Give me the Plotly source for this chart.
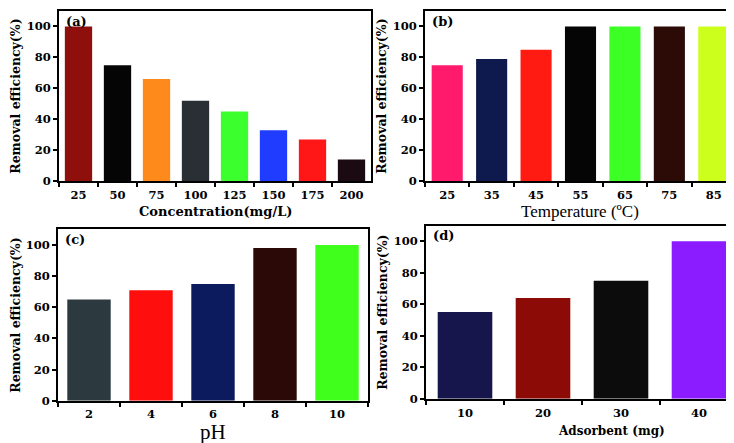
import plotly.graph_objects as go

# data
conc = ["25", "50", "75", "100", "125", "150", "175", "200"]
conc_eff = [100, 75, 66, 52, 45, 33, 27, 14]
conc_colors = ["#8e0f0c", "#050505", "#ff8a1c", "#2a2f36", "#3cff2e", "#1f3cff", "#ff1616", "#1c0a12"]

temp = ["25", "35", "45", "55", "65", "75", "85"]
temp_eff = [75, 79, 85, 100, 100, 100, 100]
temp_colors = ["#ff1a6c", "#0e1a4e", "#ff1a12", "#050505", "#3cff26", "#2c0a06", "#ccff1c"]

ph = ["2", "4", "6", "8", "10"]
ph_eff = [65, 71, 75, 98, 100]
ph_colors = ["#2c393e", "#ff0e0e", "#0b1b5e", "#2a0906", "#40ff1c"]

ads = ["10", "20", "30", "40"]
ads_eff = [55, 64, 75, 100]
ads_colors = ["#16164c", "#8c0b06", "#0c0c0c", "#8a1cff"]

W, H = 734, 443
SERIF = "Liberation Serif"
BOLD = "DejaVu Serif"   # only serif family here with a real bold face

panels = [
    # cats, values, colours, tag, x title, title font, title size, title (x, y) px, box px (l, r, t, b)
    (conc, conc_eff, conc_colors, "(a)", "<b>Concentration(mg/L)</b>", BOLD, 13, (208, 207), (51, 363, 3, 176)),
    (temp, temp_eff, temp_colors, "(b)", "Temperature (ºC)", SERIF, 17, (572, 207), (417, 728, 3, 176)),
    (ph, ph_eff, ph_colors, "(c)", "pH", SERIF, 21, (205, 431), (50, 360, 225, 399)),
    (ads, ads_eff, ads_colors, "(d)", "<b>Adsorbent (mg)</b>", BOLD, 12, (603, 430), (418, 730, 221, 397)),
]

fig = go.Figure()

for i, (cats, vals, cols, lab, xtitle, tfont, tsize, tpos, box) in enumerate(panels, start=1):
    left, right, top, bottom = box
    xa = "x" if i == 1 else f"x{i}"
    ya = "y" if i == 1 else f"y{i}"
    fig.add_trace(go.Bar(x=cats, y=vals, marker=dict(color=cols, line=dict(width=0)),
                         xaxis=xa, yaxis=ya, showlegend=False))
    key = "" if i == 1 else str(i)
    fig.update_layout({
        f"xaxis{key}": dict(
            domain=[left / W, right / W], anchor=ya, type="category",
            tickson="boundaries", ticks="outside", ticklen=4, tickwidth=1.5,
            tickcolor="black", showline=True, linecolor="black", linewidth=2,
            mirror=True, showgrid=False, ticklabelstandoff=2,
            tickvals=cats, ticktext=[f"<b>{c}</b>" for c in cats],
            tickfont=dict(family=BOLD, size=11.5, color="black"),
        ),
        f"yaxis{key}": dict(
            domain=[1 - bottom / H, 1 - top / H], anchor=xa, range=[0, 110],
            tickvals=[0, 20, 40, 60, 80, 100],
            ticktext=[f"<b>{v}</b>" for v in [0, 20, 40, 60, 80, 100]],
            ticks="outside", ticklen=4,
            tickwidth=1.5, tickcolor="black", showline=True, linecolor="black",
            linewidth=2, mirror=True, showgrid=False, zeroline=False,
            tickfont=dict(family=BOLD, size=11.5, color="black"),
            title=dict(text="<b>Removal efficiency(%)</b>", standoff=3,
                       font=dict(family=BOLD, size=12.5, color="black")),
        ),
    })
    fig.add_annotation(text=f"<b>{lab}</b>", xref="paper", yref="paper",
                       x=(left + 5) / W, y=1 - (top + 1) / H,
                       xanchor="left", yanchor="top", showarrow=False,
                       font=dict(family=BOLD, size=13, color="black"))
    fig.add_annotation(text=xtitle, xref="paper", yref="paper",
                       x=tpos[0] / W, y=1 - tpos[1] / H,
                       xanchor="center", yanchor="middle", showarrow=False,
                       font=dict(family=tfont, size=tsize, color="black"))

fig.update_layout(width=W, height=H, margin=dict(l=0, r=0, t=0, b=0),
                  paper_bgcolor="white", plot_bgcolor="white", bargap=0.3)

fig.write_html("out.html")
